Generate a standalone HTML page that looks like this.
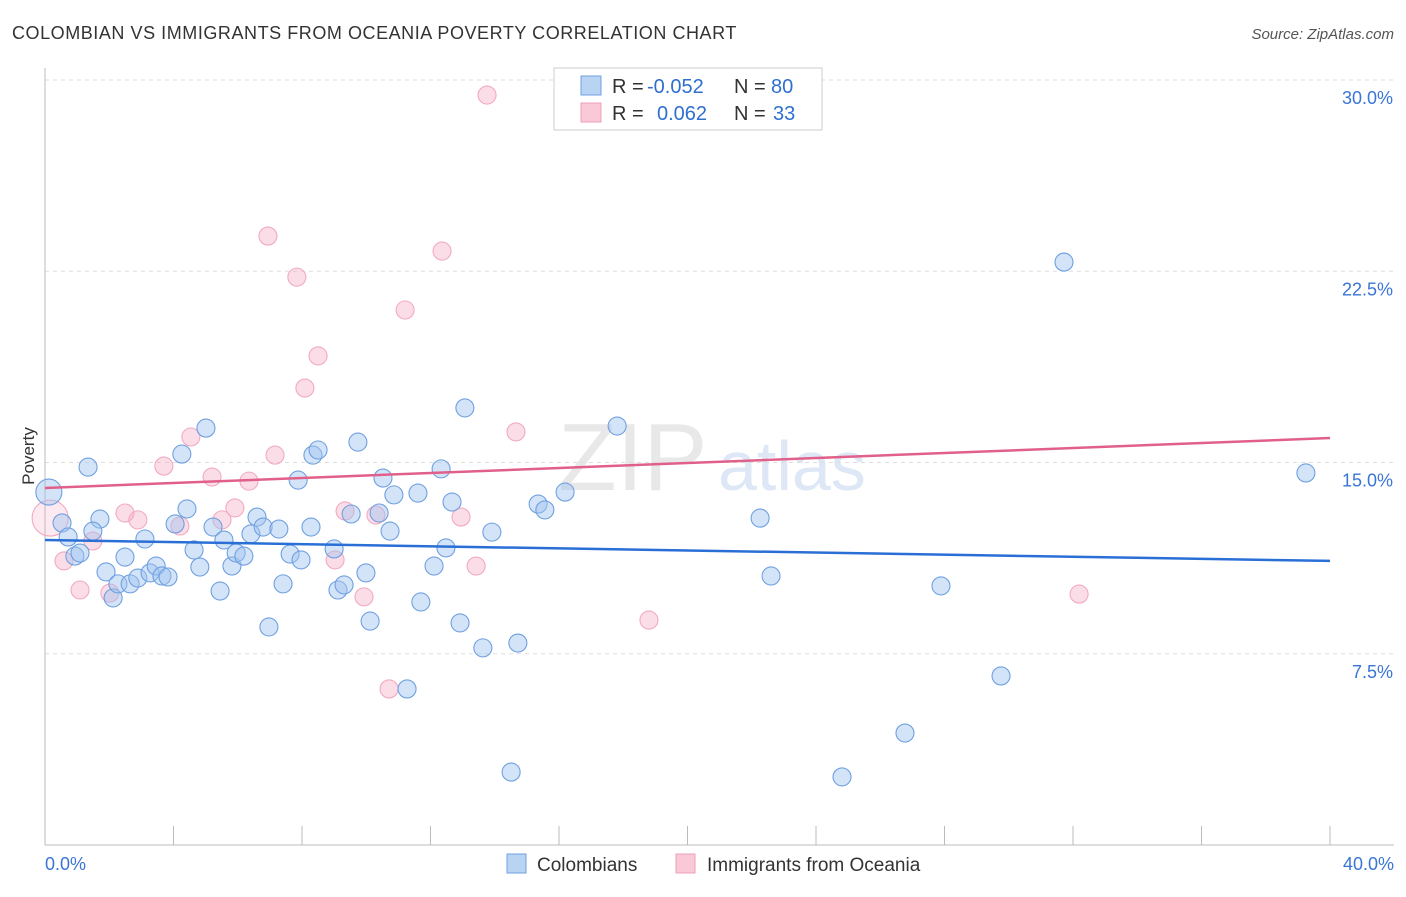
<!DOCTYPE html>
<html><head><meta charset="utf-8"><style>
body{margin:0;background:#fff;font-family:"Liberation Sans",sans-serif;}
svg text{font-family:"Liberation Sans",sans-serif;}
</style></head><body>
<svg id="chart" width="1406" height="892">
<text x="12" y="39" font-size="18" fill="#333" letter-spacing="0.55">COLOMBIAN VS IMMIGRANTS FROM OCEANIA POVERTY CORRELATION CHART</text>
<text x="1394" y="39" font-size="15" fill="#555" font-style="italic" text-anchor="end">Source: ZipAtlas.com</text>
<text x="558" y="490" font-size="96" fill="#e8e8e8" font-family="Liberation Serif">ZIP</text>
<text x="718" y="490" font-size="70" fill="#dde7f5">atlas</text>
<text transform="translate(34,456) rotate(-90)" font-size="17" fill="#333" text-anchor="middle">Poverty</text>
<g id="grid"></g><g id="pts"></g><g id="lines"></g>
<g>
<rect x="554" y="68" width="268" height="62" fill="#fff" stroke="#ccc"/>
<rect x="581" y="76" width="20" height="19" fill="#b9d3f3" stroke="#6fa0e0"/>
<rect x="581" y="103" width="20" height="19" fill="#f9c9d7" stroke="#f0a0b8"/>
<text x="612" y="93" font-size="20" fill="#333">R =</text>
<text x="647" y="93" font-size="20" fill="#2f6fd0">-0.052</text>
<text x="734" y="93" font-size="20" fill="#333">N =</text>
<text x="771" y="93" font-size="20" fill="#2f6fd0">80</text>
<text x="612" y="120" font-size="20" fill="#333">R =</text>
<text x="657" y="120" font-size="20" fill="#2f6fd0">0.062</text>
<text x="734" y="120" font-size="20" fill="#333">N =</text>
<text x="773" y="120" font-size="20" fill="#2f6fd0">33</text>
</g>
<g>
<rect x="507" y="854" width="19" height="19" fill="#b9d3f3" stroke="#6fa0e0"/>
<text x="537" y="871" font-size="19" fill="#333">Colombians</text>
<rect x="676" y="854" width="19" height="19" fill="#f9c9d7" stroke="#f0a0b8"/>
<text x="707" y="871" font-size="19" fill="#333">Immigrants from Oceania</text>
</g>
</svg>
<script>
const yTicks=[7.5,15,22.5,30];
const yTickLabels=["7.5%","15.0%","22.5%","30.0%"];
const xTickLabels=["0.0%","40.0%"];
const blueX=[0.12,0.53,1.34,1.71,1.49,0.72,0.93,1.09,1.90,2.12,2.27,2.49,2.65,2.89,3.11,3.27,3.46,3.64,3.83,4.05,4.26,4.42,4.64,4.82,5.01,5.23,5.45,5.57,5.82,5.95,6.19,6.41,6.60,6.79,6.97,7.28,7.41,7.63,7.88,7.97,8.28,8.34,8.50,9.00,9.12,9.31,9.53,9.74,9.99,10.12,10.40,10.52,10.74,10.86,11.27,11.61,11.70,12.11,12.33,12.48,12.67,12.92,13.07,13.63,13.91,14.51,14.72,15.35,15.56,16.19,17.81,22.26,22.60,24.81,26.77,27.89,29.76,31.72,39.25];
const blueY=[13.84,12.63,14.82,12.78,12.31,12.08,11.33,11.45,10.71,9.69,10.24,11.29,10.24,10.47,12.00,10.67,10.94,10.55,10.51,12.59,15.33,13.18,11.57,10.90,16.35,12.47,9.96,11.96,10.94,11.45,11.33,12.20,12.86,12.47,8.55,12.39,10.24,11.41,14.31,11.18,12.47,15.29,15.49,11.61,10.00,10.20,12.98,15.80,10.67,8.78,13.02,14.39,12.31,13.73,6.12,13.80,9.53,10.94,14.75,11.65,13.45,8.71,17.14,7.73,12.27,2.86,7.92,13.37,13.14,13.84,16.43,12.82,10.55,2.67,4.39,10.16,6.63,22.86,14.59];
const pinkX=[0.16,0.59,1.09,1.49,2.02,2.49,2.89,3.70,4.20,4.54,5.20,5.51,5.91,6.35,6.94,7.16,7.84,8.09,8.50,9.03,9.34,9.93,10.30,10.71,11.21,12.36,12.95,13.42,13.76,14.66,18.80,32.19];
const pinkY=[12.82,11.14,10.00,11.92,9.88,13.02,12.75,14.86,12.51,16.00,14.43,12.75,13.22,14.27,23.88,15.29,22.27,17.92,19.18,11.18,13.10,9.73,12.94,6.12,20.98,23.29,12.86,10.94,29.41,16.20,8.82,9.84];
const blueTrend=[11.96,11.14];
const pinkTrend=[14.0,15.96];
const NS="http://www.w3.org/2000/svg";
const X0=45,X1=1330,Y0=845,PPY=25.5;
const sx=v=>X0+(X1-X0)*v/40;
const sy=v=>Y0-v*PPY;
function mk(t,a,p){const e=document.createElementNS(NS,t);for(const k in a)e.setAttribute(k,a[k]);p.appendChild(e);return e;}
const grid=document.getElementById('grid');
yTicks.forEach((t,i)=>{
 const l=mk('line',{x1:X0,x2:1394,y1:sy(t),y2:sy(t),stroke:'#ddd','stroke-dasharray':'4,4'},grid);
 
 
 const tx=mk('text',{x:1393,y:sy(t)+24,'font-size':18,fill:'#3a75d6','text-anchor':'end'},grid);
 tx.textContent=yTickLabels[i];
 
 
});
const ax=mk('line',{x1:X0,x2:X0,y1:68,y2:Y0,stroke:'#bbb'},grid);


const bx=mk('line',{x1:X0,x2:1394,y1:Y0,y2:Y0,stroke:'#bbb'},grid);


for(let i=0;i<=10;i++){
 const t=mk('line',{x1:sx(i*4),x2:sx(i*4),y1:826,y2:Y0,stroke:'#bbb'},grid);
 
 
}
[[0,'start',45],[40,'end',1394]].forEach((d,i)=>{
 const tx=mk('text',{x:d[2],y:870,'font-size':18,fill:'#3a75d6','text-anchor':d[1]},grid);
 tx.textContent=xTickLabels[i];
 
 
});
const pts=document.getElementById('pts');
pinkX.forEach((x,i)=>{
 const c=mk('circle',{cx:sx(x),cy:sy(pinkY[i]),r:i==0?18:9,fill:i==0?'rgba(245,170,195,0.25)':'rgba(245,170,195,0.4)',stroke:'#f2aac0','stroke-width':1.1},pts);
 
 
});
blueX.forEach((x,i)=>{
 const c=mk('circle',{cx:sx(x),cy:sy(blueY[i]),r:i==0?13:9,fill:'rgba(160,196,240,0.45)',stroke:'#6fa0e0','stroke-width':1.1},pts);
 
 
});
const lines=document.getElementById('lines');
const bl=mk('line',{x1:sx(0),x2:sx(40),y1:sy(blueTrend[0]),y2:sy(blueTrend[1]),stroke:'#2a6fd6','stroke-width':2.5},lines);


const pl=mk('line',{x1:sx(0),x2:sx(40),y1:sy(pinkTrend[0]),y2:sy(pinkTrend[1]),stroke:'#e0608a','stroke-width':2.5},lines);


</script>
</body></html>
